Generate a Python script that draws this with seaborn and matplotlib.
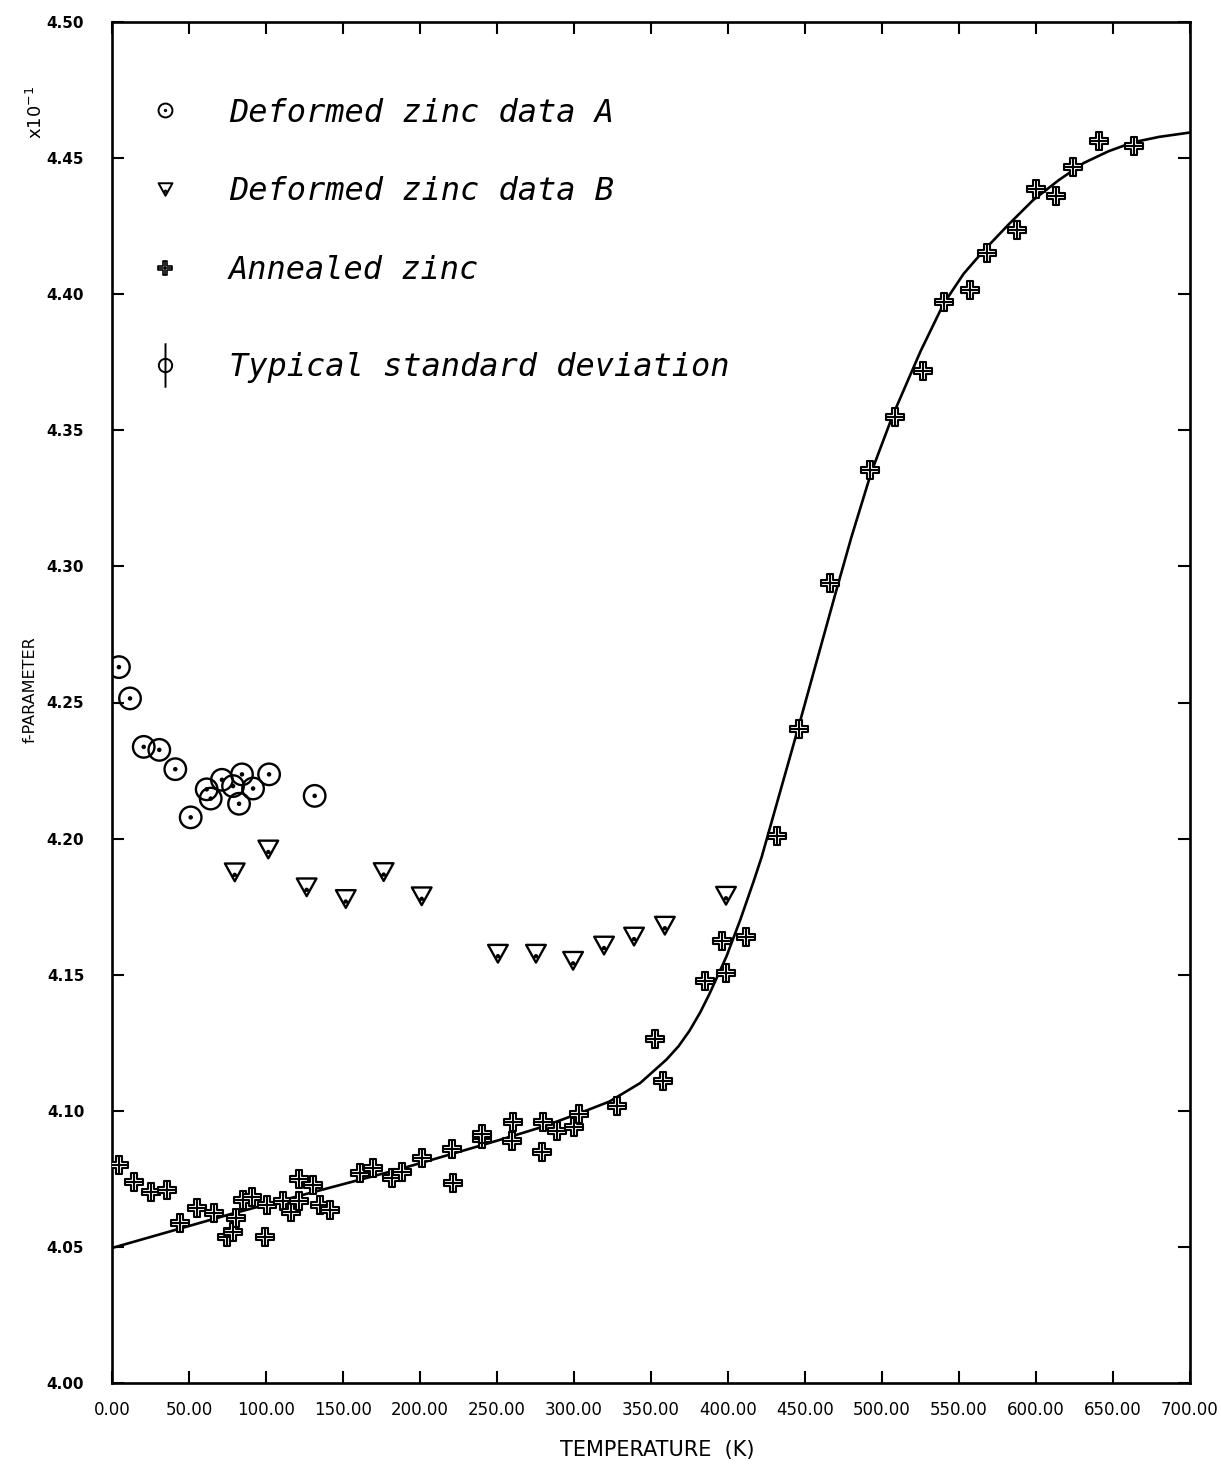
import numpy as np
import matplotlib
matplotlib.use("Agg")
import matplotlib.pyplot as plt
from matplotlib.path import Path
from matplotlib.markers import MarkerStyle
from matplotlib.lines import Line2D
import seaborn as sns

# ---- measured data -------------------------------------------------------
# Deformed zinc, data set A (temperature in K, f-parameter x10^-1)
deformed_a_T = [4.5, 11.7, 20.6, 30.7, 41.1, 51.1, 61.5, 64.1, 71.4, 78.6,
                82.5, 84.4, 91.6, 102.0, 131.6]
deformed_a_f = [4.2630, 4.2515, 4.2337, 4.2326, 4.2255, 4.2078, 4.2181, 4.2147,
                4.2216, 4.2193, 4.2128, 4.2236, 4.2184, 4.2236, 4.2157]

# Deformed zinc, data set B
deformed_b_T = [79.7, 101.5, 126.4, 151.8, 176.4, 201.1, 250.6, 275.3, 299.4,
                319.5, 339.0, 359.0, 398.7]
deformed_b_f = [4.1876, 4.1960, 4.1821, 4.1778, 4.1877, 4.1788, 4.1577, 4.1577,
                4.1551, 4.1607, 4.1640, 4.1680, 4.1790]

# Annealed zinc
annealed_T = [4.5, 14.0, 25.0, 35.5, 44.0, 55.0, 66.0, 74.5, 78.5, 80.5,
              85.0, 91.0, 100.5, 99.5, 111.0, 116.5, 121.5, 121.5, 130.5, 135.0,
              141.5, 161.0, 169.5, 181.5, 188.0, 201.0, 221.0, 221.5, 240.5, 240.5,
              259.5, 260.5, 279.5, 280.0, 289.0, 300.0, 303.5, 328.0, 352.5, 357.5,
              385.0, 396.0, 398.5, 411.5, 431.5, 446.0, 466.0, 492.5, 508.5, 526.5,
              540.0, 557.0, 568.0, 587.5, 600.0, 613.0, 624.0, 641.0, 663.5]
annealed_f = [4.0801, 4.0740, 4.0703, 4.0710, 4.0589, 4.0642, 4.0624, 4.0538, 4.0553, 4.0606,
              4.0673, 4.0685, 4.0654, 4.0538, 4.0667, 4.0630, 4.0667, 4.0749, 4.0728, 4.0654,
              4.0636, 4.0771, 4.0789, 4.0753, 4.0777, 4.0826, 4.0860, 4.0736, 4.0896, 4.0915,
              4.0890, 4.0958, 4.0850, 4.0958, 4.0924, 4.0942, 4.0988, 4.1016, 4.1264, 4.1111,
              4.1478, 4.1625, 4.1506, 4.1639, 4.2008, 4.2404, 4.2940, 4.3354, 4.3550, 4.3718,
              4.3972, 4.4016, 4.4151, 4.4235, 4.4386, 4.4361, 4.4466, 4.4564, 4.4545]

# Fitted curve through the annealed data
fit_T = [0, 78, 187, 241, 260, 280, 304, 323, 343, 360, 368, 375, 382, 388,
         399, 408, 417, 422, 434, 447, 458, 470, 480, 493, 507, 525, 540, 553,
         566, 582, 598, 615, 631, 647, 663, 680, 700]
fit_f = [4.0496, 4.0622, 4.0786, 4.0875, 4.0907, 4.0942, 4.0992, 4.1034, 4.1102,
         4.1188, 4.1238, 4.1294, 4.1362, 4.1430, 4.1567, 4.1702, 4.1849, 4.1935,
         4.2175, 4.2435, 4.2660, 4.2905, 4.3105, 4.3345, 4.3555, 4.3790, 4.3965,
         4.4075, 4.4160, 4.4255, 4.4345, 4.4420, 4.4482, 4.4525, 4.4558, 4.4578,
         4.4594]

x_ticks = np.arange(0, 701, 50)
y_ticks = np.round(np.arange(4.00, 4.501, 0.05), 2)

legend_labels = ["Deformed zinc data A", "Deformed zinc data B",
                 "Annealed zinc", "Typical standard deviation"]

# ---- marker glyphs ---------------------------------------------------------
ring_dot = Path.make_compound_path(Path.unit_circle(),
                                   Path.circle((0, 0), 0.10))

tri_verts = [(-1.0, 0.9), (1.0, 0.9), (0.0, -0.9), (-1.0, 0.9)]
tri_codes = [Path.MOVETO, Path.LINETO, Path.LINETO, Path.CLOSEPOLY]
tri_dot = Path.make_compound_path(Path(tri_verts, tri_codes),
                                  Path.circle((0, -0.25), 0.10))

a = 0.34
plus_outline = [(-a, 1), (a, 1), (a, a), (1, a), (1, -a), (a, -a), (a, -1),
                (-a, -1), (-a, -a), (-1, -a), (-1, a), (-a, a), (-a, 1)]
plus_codes = [Path.MOVETO] + [Path.LINETO] * 11 + [Path.CLOSEPOLY]
cross_box = Path.make_compound_path(
    Path(plus_outline, plus_codes),
    Path([(-1, 0), (1, 0)], [Path.MOVETO, Path.LINETO]),
    Path([(0, -1), (0, 1)], [Path.MOVETO, Path.LINETO]),
)

phi_path = Path.make_compound_path(
    Path.circle((0, 0), 0.30),
    Path([(0, -1), (0, 1)], [Path.MOVETO, Path.LINETO]),
)

# ---- figure ----------------------------------------------------------------
sns.set_theme(style="ticks", rc={
    "axes.linewidth": 1.9,
    "axes.edgecolor": "black",
    "text.color": "black",
    "xtick.color": "black",
    "ytick.color": "black",
    "xtick.direction": "in",
    "ytick.direction": "in",
    "xtick.major.size": 8.5,
    "ytick.major.size": 8.5,
    "xtick.major.width": 1.5,
    "ytick.major.width": 1.5,
    "xtick.top": True,
    "ytick.right": True,
})
plt.rcParams["font.family"] = ["DejaVu Sans"]

fig = plt.figure(figsize=(12.21, 14.65), dpi=100)
ax = fig.add_axes([112 / 1221, 1 - 1383 / 1465, 1078 / 1221, 1361 / 1465])

sns.lineplot(x=fit_T, y=fit_f, ax=ax, color="black", linewidth=1.9,
             sort=True, estimator=None)

sns.scatterplot(x=deformed_a_T, y=deformed_a_f, ax=ax, marker=MarkerStyle(ring_dot),
                s=240, facecolor="none", edgecolor="black", linewidths=1.7, zorder=3)
sns.scatterplot(x=deformed_b_T, y=deformed_b_f, ax=ax, marker=MarkerStyle(tri_dot),
                s=200, facecolor="none", edgecolor="black", linewidths=1.7, zorder=3)
sns.scatterplot(x=annealed_T, y=annealed_f, ax=ax, marker=MarkerStyle(cross_box),
                s=150, facecolor="white", edgecolor="black", linewidths=1.5, zorder=4)

ax.set_xlim(0, 700)
ax.set_ylim(4.00, 4.50)
ax.set_xticks(x_ticks)
ax.set_yticks(y_ticks)
ax.set_xticklabels([f"{v:.2f}" for v in x_ticks], fontsize=12)
ax.set_yticklabels([f"{v:.2f}" for v in y_ticks], fontsize=11, fontweight="bold")
ax.tick_params(axis="x", pad=13)
ax.tick_params(axis="y", pad=20)
ax.set_xlabel("")
ax.set_ylabel("")
for side in ("top", "right", "left", "bottom"):
    ax.spines[side].set_visible(True)

# legend keys
handles = [
    Line2D([], [], lw=0, marker=MarkerStyle(ring_dot), markersize=10,
           mfc="none", mec="black", mew=1.4),
    Line2D([], [], lw=0, marker=MarkerStyle(tri_dot), markersize=10,
           mfc="none", mec="black", mew=1.4),
    Line2D([], [], lw=0, marker=MarkerStyle(cross_box), markersize=10,
           mfc="white", mec="black", mew=1.2),
    Line2D([], [], lw=0, marker=MarkerStyle(phi_path), markersize=32,
           mfc="none", mec="black", mew=1.4),
]
legend_font = {"family": "DejaVu Sans Mono", "style": "oblique", "size": 23}
leg_kw = dict(loc="upper left", frameon=False, borderpad=0, borderaxespad=0,
              labelspacing=1.5, handlelength=2.0, handletextpad=1.0,
              prop=legend_font, labelcolor="black")
leg_main = ax.legend(handles[:3], legend_labels[:3],
                     bbox_to_anchor=(0.0195, 0.9445), **leg_kw)
ax.add_artist(leg_main)
ax.legend(handles[3:], legend_labels[3:],
          bbox_to_anchor=(0.0195, 0.7577), **leg_kw)

fig.text(657 / 1221, 1 - 1450 / 1465, "TEMPERATURE  (K)", fontsize=15,
         ha="center", va="center")
fig.text(30 / 1221, 1 - 690 / 1465, "f-PARAMETER", fontsize=11.5,
         rotation=90, ha="center", va="center")
fig.text(36 / 1221, 1 - 112 / 1465, r"x10$^{-1}$", fontsize=13,
         rotation=90, ha="center", va="center")

fig.savefig("out.png", dpi=100, facecolor="white")
